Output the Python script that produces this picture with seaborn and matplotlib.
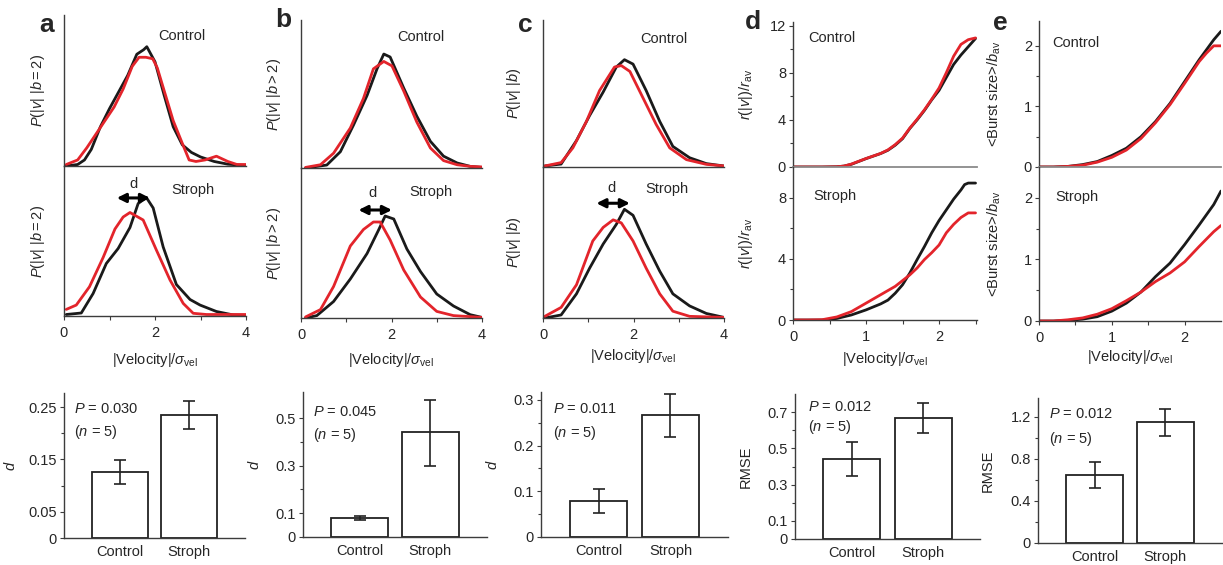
import matplotlib
matplotlib.use('Agg')
import matplotlib.pyplot as plt
import seaborn as sns

# ---------------- data ----------------
# Panel a : P(|v| | b = 2)   (heights as fraction of panel height)
a_cb_x = [0.05, 0.3, 0.45, 0.6, 0.8, 1.0, 1.2, 1.4, 1.6, 1.75, 1.82, 2.0, 2.2, 2.4, 2.6, 2.8, 3.0, 3.3, 3.6, 4.0]
a_cb_y = [0.0, 0.01, 0.04, 0.11, 0.26, 0.38, 0.49, 0.60, 0.74, 0.77, 0.79, 0.69, 0.47, 0.26, 0.14, 0.09, 0.06, 0.03, 0.012, 0.003]
a_cr_x = [0.05, 0.3, 0.5, 0.7, 0.9, 1.1, 1.3, 1.5, 1.65, 1.8, 1.95, 2.05, 2.2, 2.4, 2.6, 2.75, 2.9, 3.1, 3.35, 3.6, 3.8, 4.0]
a_cr_y = [0.01, 0.04, 0.12, 0.21, 0.30, 0.39, 0.51, 0.66, 0.72, 0.72, 0.71, 0.65, 0.50, 0.30, 0.15, 0.04, 0.03, 0.04, 0.065, 0.03, 0.01, 0.01]
a_sb_x = [0.05, 0.38, 0.64, 0.93, 1.19, 1.45, 1.63, 1.81, 1.96, 2.18, 2.47, 2.77, 2.99, 3.35, 3.72, 4.0]
a_sb_y = [0.01, 0.02, 0.15, 0.35, 0.45, 0.59, 0.75, 0.79, 0.72, 0.46, 0.21, 0.11, 0.073, 0.03, 0.007, 0.004]
a_sr_x = [0.05, 0.27, 0.56, 0.86, 1.12, 1.30, 1.45, 1.74, 2.03, 2.33, 2.62, 2.84, 3.13, 4.0]
a_sr_y = [0.044, 0.073, 0.195, 0.39, 0.58, 0.66, 0.69, 0.64, 0.44, 0.24, 0.084, 0.018, 0.01, 0.01]

# Panel b : P(|v| | b > 2)
b_cb_x = [0.1, 0.57, 0.87, 1.16, 1.46, 1.68, 1.83, 1.97, 2.27, 2.56, 2.86, 3.15, 3.45, 3.74, 4.0]
b_cb_y = [0.0, 0.02, 0.11, 0.29, 0.49, 0.67, 0.77, 0.75, 0.54, 0.35, 0.18, 0.08, 0.034, 0.011, 0.004]
b_cr_x = [0.1, 0.43, 0.72, 1.09, 1.38, 1.60, 1.83, 2.01, 2.27, 2.56, 2.86, 3.15, 3.45, 3.74, 4.0]
b_cr_y = [0.004, 0.022, 0.10, 0.27, 0.47, 0.67, 0.72, 0.69, 0.52, 0.31, 0.135, 0.05, 0.022, 0.011, 0.007]
b_sb_x = [0.1, 0.35, 0.72, 1.09, 1.46, 1.72, 1.86, 2.05, 2.34, 2.64, 3.0, 3.37, 3.74, 4.0]
b_sb_y = [0.0, 0.016, 0.11, 0.26, 0.43, 0.59, 0.68, 0.66, 0.46, 0.31, 0.16, 0.08, 0.022, 0.004]
b_sr_x = [0.1, 0.43, 0.72, 1.09, 1.38, 1.60, 1.75, 1.97, 2.27, 2.64, 3.0, 3.37, 4.0]
b_sr_y = [0.007, 0.056, 0.21, 0.48, 0.59, 0.64, 0.64, 0.52, 0.32, 0.14, 0.044, 0.016, 0.004]

# Panel c : P(|v| | b)
c_cb_x = [0.04, 0.4, 0.74, 1.03, 1.33, 1.62, 1.80, 1.99, 2.28, 2.58, 2.87, 3.24, 3.61, 4.0]
c_cb_y = [0.007, 0.02, 0.18, 0.35, 0.51, 0.68, 0.73, 0.70, 0.52, 0.31, 0.14, 0.063, 0.023, 0.007]
c_cr_x = [0.04, 0.4, 0.66, 0.96, 1.25, 1.58, 1.73, 1.92, 2.21, 2.5, 2.8, 3.17, 3.61, 4.0]
c_cr_y = [0.007, 0.03, 0.13, 0.31, 0.52, 0.68, 0.69, 0.65, 0.47, 0.29, 0.13, 0.05, 0.018, 0.007]
c_sb_x = [0.04, 0.4, 0.74, 1.03, 1.33, 1.62, 1.80, 1.99, 2.28, 2.58, 2.87, 3.24, 3.61, 4.0]
c_sb_y = [0.0, 0.02, 0.16, 0.33, 0.49, 0.62, 0.72, 0.68, 0.49, 0.31, 0.16, 0.08, 0.03, 0.004]
c_sr_x = [0.04, 0.4, 0.74, 1.10, 1.33, 1.55, 1.73, 1.99, 2.28, 2.58, 2.87, 3.24, 4.0]
c_sr_y = [0.011, 0.07, 0.22, 0.51, 0.60, 0.65, 0.63, 0.51, 0.33, 0.16, 0.045, 0.011, 0.004]

# Panel d : r(|v|)/r_av
d_cb_x = [0, 0.2, 0.4, 0.6, 0.7, 0.8, 1.0, 1.2, 1.3, 1.4, 1.5, 1.6, 1.7, 1.8, 1.9, 2.0, 2.1, 2.2, 2.3, 2.4, 2.5]
d_cb_y = [0, 0, 0, 0.02, 0.08, 0.23, 0.71, 1.14, 1.42, 1.85, 2.4, 3.27, 4.0, 4.8, 5.7, 6.5, 7.6, 8.7, 9.5, 10.2, 10.9]
d_cr_x = [0, 0.2, 0.4, 0.6, 0.7, 0.8, 1.0, 1.2, 1.3, 1.4, 1.5, 1.6, 1.7, 1.8, 1.9, 2.0, 2.1, 2.2, 2.3, 2.4, 2.5]
d_cr_y = [0, 0, 0, 0.02, 0.08, 0.25, 0.72, 1.15, 1.45, 1.9, 2.45, 3.3, 4.05, 4.85, 5.75, 6.7, 8.0, 9.4, 10.4, 10.8, 10.95]
d_sb_x = [0, 0.2, 0.4, 0.6, 0.8, 1.0, 1.2, 1.3, 1.4, 1.5, 1.6, 1.7, 1.8, 1.9, 2.0, 2.1, 2.2, 2.3, 2.35, 2.4, 2.5]
d_sb_y = [0, 0, 0, 0.1, 0.33, 0.66, 1.05, 1.3, 1.75, 2.3, 3.07, 3.95, 4.8, 5.7, 6.5, 7.2, 7.9, 8.5, 8.85, 8.95, 8.95]
d_sr_x = [0, 0.2, 0.4, 0.6, 0.8, 1.0, 1.2, 1.4, 1.6, 1.7, 1.8, 1.9, 2.0, 2.1, 2.2, 2.3, 2.4, 2.5]
d_sr_y = [0, 0, 0.02, 0.2, 0.55, 1.1, 1.65, 2.2, 2.95, 3.4, 3.95, 4.4, 4.9, 5.7, 6.25, 6.7, 7.0, 7.0]

# Panel e : <Burst size>/b_av
e_cb_x = [0, 0.2, 0.4, 0.6, 0.8, 1.0, 1.2, 1.4, 1.6, 1.8, 2.0, 2.2, 2.4, 2.5]
e_cb_y = [0, 0, 0.01, 0.04, 0.09, 0.19, 0.31, 0.5, 0.75, 1.05, 1.41, 1.77, 2.1, 2.24]
e_cr_x = [0, 0.2, 0.4, 0.6, 0.8, 1.0, 1.2, 1.4, 1.6, 1.8, 2.0, 2.2, 2.3, 2.4, 2.5]
e_cr_y = [0, 0, 0.01, 0.03, 0.08, 0.16, 0.28, 0.47, 0.73, 1.03, 1.38, 1.74, 1.88, 2.0, 2.0]
e_sb_x = [0, 0.2, 0.4, 0.6, 0.8, 1.0, 1.2, 1.4, 1.6, 1.8, 2.0, 2.2, 2.4, 2.5]
e_sb_y = [0, 0, 0.01, 0.03, 0.07, 0.16, 0.29, 0.47, 0.72, 0.94, 1.24, 1.56, 1.89, 2.11]
e_sr_x = [0, 0.2, 0.4, 0.6, 0.8, 1.0, 1.2, 1.4, 1.6, 1.8, 2.0, 2.2, 2.4, 2.5]
e_sr_y = [0, 0, 0.02, 0.05, 0.11, 0.2, 0.33, 0.47, 0.64, 0.78, 0.96, 1.21, 1.45, 1.55]

# Bar charts
BAR_CATS = ['Control', 'Stroph']
a_bar = [0.126, 0.235]; a_lo = [0.103, 0.208]; a_hi = [0.149, 0.262]
b_bar = [0.080, 0.440]; b_lo = [0.073, 0.300]; b_hi = [0.087, 0.575]
c_bar = [0.079, 0.267]; c_lo = [0.052, 0.219]; c_hi = [0.105, 0.313]
d_bar = [0.440, 0.666]; d_lo = [0.347, 0.583]; d_hi = [0.535, 0.750]
e_bar = [0.650, 1.150]; e_lo = [0.520, 1.020]; e_hi = [0.770, 1.280]
P_VALUES = ['0.030', '0.045', '0.011', '0.012', '0.012']
N_ANIMALS = 5

# ---------------- style ----------------
sns.set_style('ticks')
plt.rcParams['font.family'] = ['Liberation Sans', 'DejaVu Sans']
plt.rcParams['mathtext.fontset'] = 'custom'
plt.rcParams['mathtext.rm'] = 'Liberation Sans'
plt.rcParams['mathtext.it'] = 'Liberation Sans:italic'
plt.rcParams['mathtext.bf'] = 'Liberation Sans:bold'
FS = 10.5
plt.rcParams['font.size'] = FS

BLACK = '#1a1a1a'
RED = '#e3242b'
SPINE = '#3c3c3c'
LW = 2.0

W, H = 1223, 565
fig = plt.figure(figsize=(W / 100, H / 100), dpi=100)


def add_ax(x0, y0, x1, y1):
    return fig.add_axes([x0 / W, 1 - y1 / H, (x1 - x0) / W, (y1 - y0) / H])


def style_ax(ax):
    for s in ['top', 'right']:
        ax.spines[s].set_visible(False)
    for s in ['left', 'bottom']:
        ax.spines[s].set_color(SPINE)
        ax.spines[s].set_linewidth(1.0)
    ax.tick_params(which='both', direction='out', color=SPINE, width=0.8,
                   labelsize=FS, pad=2)
    ax.tick_params(which='major', length=3)
    ax.tick_params(which='minor', length=2.5)
    ax.set_facecolor('none')


def curves(ax, bx, by, rx, ry):
    sns.lineplot(x=bx, y=by, ax=ax, color=BLACK, linewidth=LW)
    sns.lineplot(x=rx, y=ry, ax=ax, color=RED, linewidth=LW)


# ---------- top: distribution panels a,b,c ----------
dist_specs = [
    (64, 246, 15, 166, 316, r'$P(|v|\ |b = 2)$',
     (a_cb_x, a_cb_y, a_cr_x, a_cr_y, a_sb_x, a_sb_y, a_sr_x, a_sr_y), 47,
     -0.233, (1.16, 1.89, 0.787, 1.52, 0.88), (0.65, 0.86, 0.71, 0.84)),
    (301, 482, 20, 168, 318, r'$P(|v|\ |b > 2)$',
     (b_cb_x, b_cb_y, b_cr_x, b_cr_y, b_sb_x, b_sb_y, b_sr_x, b_sr_y), 283,
     -0.22, (1.27, 2.01, 0.72, 1.57, 0.83), (0.66, 0.885, 0.72, 0.84)),
    (543, 724, 20, 167, 318, r'$P(|v|\ |b)$',
     (c_cb_x, c_cb_y, c_cr_x, c_cr_y, c_sb_x, c_sb_y, c_sr_x, c_sr_y), 523,
     -0.19, (1.18, 1.92, 0.76, 1.51, 0.86), (0.67, 0.87, 0.685, 0.855)),
]

for (x0, x1, yt, ym, yb, ylab, dat, labx, xlab_y, arr, txt) in dist_specs:
    axc = add_ax(x0, yt, x1, ym)
    axs = add_ax(x0, ym, x1, yb)
    curves(axc, dat[0], dat[1], dat[2], dat[3])
    curves(axs, dat[4], dat[5], dat[6], dat[7])
    for ax in (axc, axs):
        style_ax(ax)
        ax.set_xlim(0, 4)
        ax.set_ylim(0, 1)
        ax.set_yticks([])
        ax.set_ylabel(ylab, fontsize=FS)
        ax.yaxis.set_label_coords((labx - x0) / (x1 - x0), 0.5)
    axc.set_xticks([])
    axc.set_xlabel('')
    axs.set_xticks([0, 2, 4])
    axs.set_xticks([1, 3], minor=True)
    axs.tick_params(which='both', length=3, pad=4)
    axs.set_xlabel(r'|Velocity|/$\sigma_{\rm vel}$', fontsize=FS)
    axs.xaxis.set_label_coords(0.5, xlab_y)
    axc.text(txt[0], txt[1], 'Control', transform=axc.transAxes,
             ha='center', va='center', fontsize=FS)
    axs.text(txt[2], txt[3], 'Stroph', transform=axs.transAxes,
             ha='center', va='center', fontsize=FS)
    axs.annotate('', xy=(arr[0], arr[2]), xytext=(arr[1], arr[2]),
                 arrowprops=dict(arrowstyle='<|-|>', color='black', lw=2.2,
                                 mutation_scale=13, shrinkA=0, shrinkB=0))
    axs.text(arr[3], arr[4], 'd', ha='center', va='center', fontsize=FS)

# ---------- top: panels d,e ----------
curve_specs = [
    (793, 977, 22, 167, 320, 2.52, (0, 12.3), (0, 10.0),
     [0, 4, 8, 12], [2, 6, 10], [0, 4, 8], [2, 6], [0.5, 1.5, 2.5],
     r'$r(|v|)/r_{\rm av}$',
     (d_cb_x, d_cb_y, d_cr_x, d_cr_y, d_sb_x, d_sb_y, d_sr_x, d_sr_y), 755,
     -0.196, (0.21, 0.89, 0.23, 0.81)),
    (1039, 1221, 21, 167, 321, 2.5, (0, 2.41), (0, 2.5),
     [0, 1, 2], [0.5, 1.5], [0, 1, 2], [0.5, 1.5], [0.5, 1.5],
     r'<Burst size>/$b_{\rm av}$',
     (e_cb_x, e_cb_y, e_cr_x, e_cr_y, e_sb_x, e_sb_y, e_sr_x, e_sr_y), 1003,
     -0.175, (0.20, 0.85, 0.21, 0.805)),
]

for (x0, x1, yt, ym, yb, xmax, ylc, yls, ctm, ctn, stm, stn, xmin_t, ylab,
     dat, labx, xlab_y, txt) in curve_specs:
    axc = add_ax(x0, yt, x1, ym)
    axs = add_ax(x0, ym, x1, yb)
    curves(axc, dat[0], dat[1], dat[2], dat[3])
    curves(axs, dat[4], dat[5], dat[6], dat[7])
    for ax in (axc, axs):
        style_ax(ax)
        ax.set_xlim(0, xmax)
        ax.set_ylabel(ylab, fontsize=FS)
        ax.yaxis.set_label_coords((labx - x0) / (x1 - x0), 0.5)
    axc.set_ylim(*ylc)
    axs.set_ylim(*yls)
    axc.set_yticks(ctm)
    axc.set_yticks(ctn, minor=True)
    axs.set_yticks(stm)
    axs.set_yticks(stn, minor=True)
    axc.set_xticks([])
    axc.set_xlabel('')
    axc.spines['bottom'].set_color('#8a8a8a')
    axc.spines['bottom'].set_linewidth(1.3)
    axs.set_xticks([0, 1, 2])
    axs.set_xticks(xmin_t, minor=True)
    axs.tick_params(axis='x', which='both', length=3, pad=4)
    axs.set_xlabel(r'|Velocity|/$\sigma_{\rm vel}$', fontsize=FS)
    axs.xaxis.set_label_coords(0.5, xlab_y)
    axc.text(txt[0], txt[1], 'Control', transform=axc.transAxes,
             ha='center', va='center', fontsize=FS)
    axs.text(txt[2], txt[3], 'Stroph', transform=axs.transAxes,
             ha='center', va='center', fontsize=FS)

# ---------- bottom: bar charts ----------
bar_specs = [
    (64, 393, 245, 538, a_bar, a_lo, a_hi, 0.277, [0, 0.05, 0.15, 0.25],
     ['0', '0.05', '0.15', '0.25'], [0.1, 0.2], r'$d$', 18, (0.055, 0.89, 0.73)),
    (303, 392, 487, 537, b_bar, b_lo, b_hi, 0.61, [0, 0.1, 0.3, 0.5],
     ['0', '0.1', '0.3', '0.5'], [0.2, 0.4], r'$d$', 262, (0.054, 0.86, 0.70)),
    (541, 392, 728, 537, c_bar, c_lo, c_hi, 0.317, [0, 0.1, 0.2, 0.3],
     ['0', '0.1', '0.2', '0.3'], [0.05, 0.15, 0.25], r'$d$', 500, (0.064, 0.88, 0.72)),
    (795, 394, 980, 539, d_bar, d_lo, d_hi, 0.80, [0, 0.1, 0.3, 0.5, 0.7],
     ['0', '0.1', '0.3', '0.5', '0.7'], [0.2, 0.4, 0.6], 'RMSE', 753, (0.07, 0.91, 0.77)),
    (1038, 398, 1222, 543, e_bar, e_lo, e_hi, 1.38, [0, 0.4, 0.8, 1.2],
     ['0', '0.4', '0.8', '1.2'], [0.2, 0.6, 1.0], 'RMSE', 995, (0.06, 0.89, 0.72)),
]

for i, (x0, y0, x1, y1, vals, lo, hi, ytop, yt, ytl, ymn, ylab, labx, ptxt) in enumerate(bar_specs):
    ax = add_ax(x0, y0, x1, y1)
    sns.barplot(x=BAR_CATS, y=vals, ax=ax, color='white', saturation=1,
                edgecolor='#222222', linewidth=1.3, width=0.8, errorbar=None)
    yerr = [[v - l for v, l in zip(vals, lo)], [h - v for v, h in zip(vals, hi)]]
    ax.errorbar(x=[0, 1], y=vals, yerr=yerr, fmt='none', ecolor='#222222',
                elinewidth=1.2, capsize=4, capthick=1.2)
    style_ax(ax)
    ax.set_xlim(-0.8, 1.8)
    ax.set_ylim(0, ytop)
    ax.set_yticks(yt)
    ax.set_yticklabels(ytl)
    ax.set_yticks(ymn, minor=True)
    ax.tick_params(axis='x', length=0, pad=5, labelsize=FS)
    ax.set_ylabel(ylab, fontsize=FS)
    ax.yaxis.set_label_coords((labx - x0) / (x1 - x0), 0.5)
    ax.set_xlabel('')
    ax.text(ptxt[0], ptxt[1], r'$P$ = ' + P_VALUES[i], transform=ax.transAxes,
            ha='left', va='center', fontsize=FS)
    ax.text(ptxt[0], ptxt[2], r'($n$ = %d)' % N_ANIMALS, transform=ax.transAxes,
            ha='left', va='center', fontsize=FS)

# ---------- panel letters ----------
for letter, px, py in [('a', 47, 25), ('b', 283, 20), ('c', 525, 25),
                       ('d', 753, 22), ('e', 1000, 23)]:
    fig.text(px / W, 1 - py / H, letter, fontsize=19, fontweight='bold',
             ha='center', va='center')

fig.savefig('out.png', dpi=100)
